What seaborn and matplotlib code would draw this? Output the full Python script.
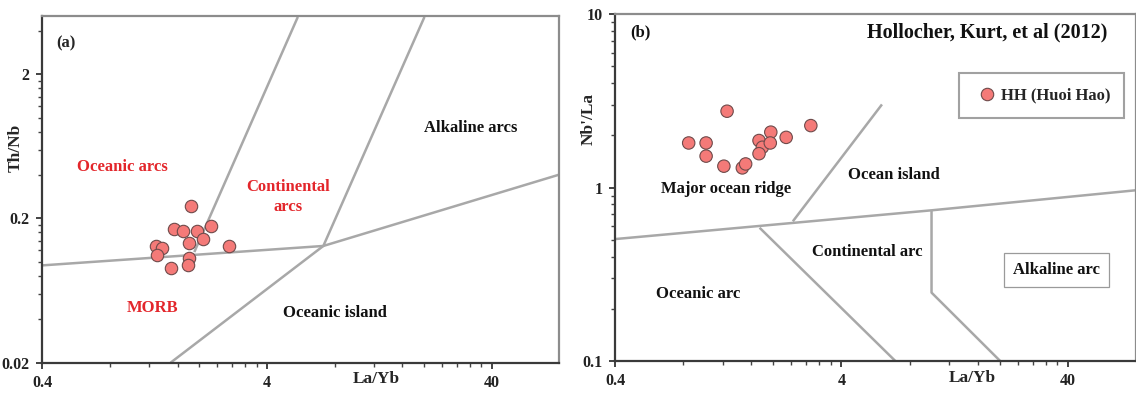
import matplotlib
matplotlib.use("Agg")
import matplotlib.pyplot as plt
from matplotlib.ticker import NullFormatter
import seaborn as sns
import pandas as pd

# --- data ---
# (a) Th/Nb vs La/Yb
a_la_yb = [1.84, 1.55, 1.70, 1.95, 2.25, 1.80, 2.07, 1.28, 1.37, 1.30, 1.80, 1.78, 1.50, 2.71]
a_th_nb = [0.243, 0.170, 0.165, 0.163, 0.178, 0.136, 0.144, 0.128, 0.125, 0.111, 0.106, 0.095, 0.091, 0.129]
# (b) Nb*/La vs La/Yb
b_la_yb = [0.846, 1.01, 1.01, 1.25, 1.21, 1.46, 1.51, 1.73, 1.79, 1.73, 1.95, 1.94, 2.28, 2.93]
b_nb_la = [1.81, 1.81, 1.52, 2.76, 1.33, 1.30, 1.37, 1.87, 1.71, 1.57, 2.09, 1.81, 1.95, 2.28]

# field boundaries (x, y)
a_lines = [
    ([0.4, 7.13, 80], [0.0946, 0.129, 0.403]),
    ([1.49, 7.13, 20.1], [0.02, 0.129, 5.0]),
    ([1.90, 5.49], [0.117, 5.0]),
]
b_lines = [
    ([0.4, 10.0, 80], [0.505, 0.74, 0.966]),
    ([2.44, 6.04], [0.639, 3.02]),
    ([1.74, 6.92], [0.587, 0.1]),
    ([10.0, 10.0, 20.1], [0.74, 0.248, 0.1]),
]

x_ticks = [0.4, 4, 40]
x_ticklabels = ["0.4", "4", "40"]
a_yticks = [0.02, 0.2, 2]
a_yticklabels = ["0.02", "0.2", "2"]
b_yticks = [0.1, 1, 10]
b_yticklabels = ["0.1", "1", "10"]

sample_name = "HH (Huoi Hao)"

sns.set_style("white")
plt.rcParams["font.family"] = ["Liberation Serif", "DejaVu Serif"]
plt.rcParams["font.weight"] = "bold"

red = "#e3262b"
line_gray = "#a8a8a8"
face = "#f47a78"
edge = "#6e4a4a"

fig = plt.figure(figsize=(11.36, 3.95), dpi=100)
ax1 = fig.add_axes([0.0372, 0.0818, 0.4551, 0.8785])
ax2 = fig.add_axes([0.5414, 0.0861, 0.4586, 0.8777])


def style_axes(ax, yticks, yticklabels, ybase, ylim):
    ax.set_xscale("log")
    ax.set_yscale("log")
    ax.set_xlim(0.4, 80)
    ax.set_ylim(*ylim)
    ax.set_xticks(x_ticks)
    ax.set_xticklabels(x_ticklabels)
    ax.set_yticks(yticks)
    ax.set_yticklabels(yticklabels)
    xminor = [0.4 * k * 10 ** n for n in range(3) for k in range(2, 10)]
    yminor = [ybase * k * 10 ** n for n in range(3) for k in range(2, 10)]
    ax.set_xticks([v for v in xminor if v < 80], minor=True)
    ax.set_yticks([v for v in yminor if ylim[0] < v < ylim[1]], minor=True)
    ax.xaxis.set_minor_formatter(NullFormatter())
    ax.yaxis.set_minor_formatter(NullFormatter())
    ax.tick_params(which="major", length=4, width=1.2, labelsize=11.5, colors="#222222", pad=5)
    ax.tick_params(which="minor", length=3, width=1.0, colors="#444444")
    ax.tick_params(axis="both", which="both", left=True, bottom=True)
    for s in ["left", "bottom"]:
        ax.spines[s].set_color("#3a3a3a")
        ax.spines[s].set_linewidth(1.6)
    for s in ["top", "right"]:
        ax.spines[s].set_color("#8c8c8c")
        ax.spines[s].set_linewidth(1.6)


# ---------- panel (a) ----------
for xs, ys in a_lines:
    ax1.plot(xs, ys, color=line_gray, lw=1.8, solid_capstyle="butt", zorder=1)
dfa = pd.DataFrame({"La/Yb": a_la_yb, "Th/Nb": a_th_nb})
sns.scatterplot(data=dfa, x="La/Yb", y="Th/Nb", ax=ax1, s=80, color=face,
                edgecolor=edge, linewidth=0.8, zorder=3)
style_axes(ax1, a_yticks, a_yticklabels, 0.02, (0.02, 5.1))
ax1.set_xlabel("La/Yb", fontsize=12.5, fontweight="bold")
ax1.set_ylabel("Th/Nb", fontsize=12.5, fontweight="bold")
ax1.xaxis.set_label_coords(0.646, -0.025)
ax1.yaxis.set_label_coords(-0.035, 0.62)

tk = dict(transform=ax1.transAxes, ha="center", va="center", fontsize=12, fontweight="bold")
ax1.text(0.046, 0.92, "(a)", **tk)
ax1.text(0.155, 0.565, "Oceanic arcs", color=red, **tk)
ax1.text(0.476, 0.478, "Continental\narcs", color=red, linespacing=1.3, **tk)
ax1.text(0.829, 0.675, "Alkaline arcs", color="#111111", **tk)
ax1.text(0.213, 0.159, "MORB", color=red, **tk)
ax1.text(0.567, 0.142, "Oceanic island", color="#111111", **tk)

# ---------- panel (b) ----------
for xs, ys in b_lines:
    ax2.plot(xs, ys, color=line_gray, lw=1.8, solid_capstyle="butt", zorder=1)
dfb = pd.DataFrame({"La/Yb": b_la_yb, "Nb'/La": b_nb_la, "group": sample_name})
sns.scatterplot(data=dfb, x="La/Yb", y="Nb'/La", hue="group", palette=[face], ax=ax2,
                s=80, edgecolor=edge, linewidth=0.8, zorder=3)
style_axes(ax2, b_yticks, b_yticklabels, 0.1, (0.1, 10))
ax2.set_xlabel("La/Yb", fontsize=12.5, fontweight="bold")
ax2.set_ylabel("Nb'/La", fontsize=12.5, fontweight="bold")
ax2.xaxis.set_label_coords(0.686, -0.025)
ax2.yaxis.set_label_coords(-0.035, 0.697)

leg = ax2.legend(loc="center", bbox_to_anchor=(0.819, 0.766), frameon=True, fancybox=False,
                 handletextpad=0.05, borderpad=0.85, borderaxespad=0, handlelength=1.6,
                 prop={"family": "Liberation Serif", "weight": "bold", "size": 12})
leg.get_frame().set_edgecolor("#8a8a8a")
leg.get_frame().set_linewidth(1.5)

tk = dict(transform=ax2.transAxes, ha="center", va="center", fontsize=12, fontweight="bold",
          color="#111111")
ax2.text(0.049, 0.947, "(b)", **tk)
ax2.text(0.714, 0.947, "Hollocher, Kurt, et al (2012)", **{**tk, "fontsize": 14.5})
ax2.text(0.536, 0.536, "Ocean island", **tk)
ax2.text(0.214, 0.497, "Major ocean ridge", **tk)
ax2.text(0.484, 0.314, "Continental arc", **tk)
ax2.text(0.160, 0.194, "Oceanic arc", **tk)
ax2.text(0.847, 0.263, "Alkaline arc",
         bbox=dict(boxstyle="square,pad=0.55", facecolor="white", edgecolor="#9a9a9a", lw=0.9),
         **tk)

fig.savefig("out.png", dpi=100)
